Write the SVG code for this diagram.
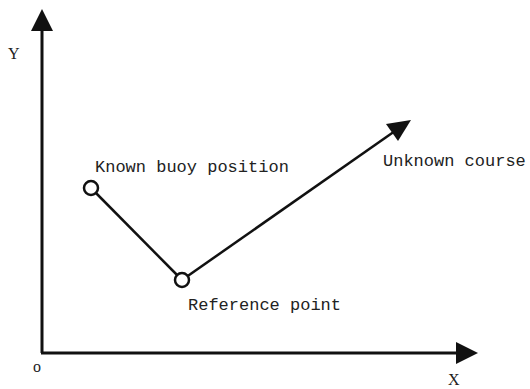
<svg xmlns="http://www.w3.org/2000/svg" width="530" height="389" viewBox="0 0 530 389">
<style>
.ax{stroke:#111;stroke-width:3;fill:none}
.ln{stroke:#111;stroke-width:2.5;fill:none}
.hd{fill:#111}
.pt{fill:#fff;stroke:#111;stroke-width:2.5}
.lb{font-family:"Liberation Mono",monospace;font-size:17px;fill:#222}
.al{font-family:"Liberation Serif",serif;font-size:16px;fill:#222}
</style>
<g id="axes">
<line class="ax" x1="42" y1="353" x2="42" y2="28"/>
<polygon class="hd" points="42,9 31,31 53,31"/>
<line class="ax" x1="41" y1="353" x2="458" y2="353"/>
<polygon class="hd" points="478,353 456,342 456,364"/>
<text class="al" x="8" y="59">Y</text>
<text class="al" x="33" y="372">o</text>
<text class="al" x="448" y="385">X</text>
</g>
<g id="connectors">
<line class="ln" x1="91" y1="188" x2="182" y2="280"/>
<line class="ln" x1="182" y1="280" x2="395" y2="131"/>
<polygon class="hd" points="411,120 386,124 398,141"/>
</g>
<g id="buoy">
<circle class="pt" cx="91" cy="188" r="7"/>
<text class="lb" x="95" y="172">Known buoy position</text>
</g>
<g id="ref">
<circle class="pt" cx="182" cy="280" r="7"/>
<text class="lb" x="188" y="310">Reference point</text>
</g>
<g id="course">
<text class="lb" x="383" y="166">Unknown course</text>
</g>
</svg>
